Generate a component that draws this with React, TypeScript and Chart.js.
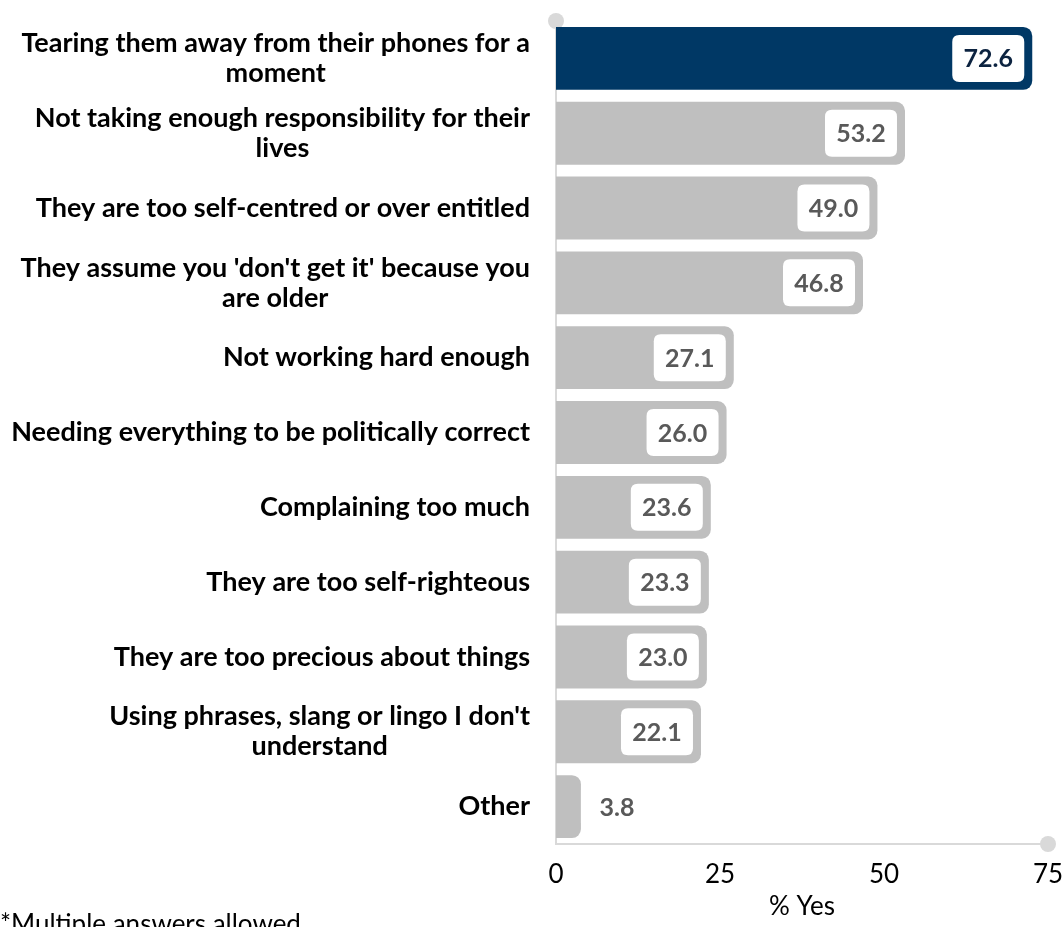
import React, { useEffect, useRef } from "react";
import { Chart, registerables } from "chart.js";

Chart.register(...registerables);

const categories: (string | string[])[] = [
  ["Tearing them away from their phones for a", "moment"],
  ["Not taking enough responsibility for their", "lives"],
  "They are too self-centred or over entitled",
  ["They assume you 'don't get it' because you", "are older"],
  "Not working hard enough",
  "Needing everything to be politically correct",
  "Complaining too much",
  "They are too self-righteous",
  "They are too precious about things",
  ["Using phrases, slang or lingo I don't", "understand"],
  "Other",
];

const values: number[] = [72.6, 53.2, 49.0, 46.8, 27.1, 26.0, 23.6, 23.3, 23.0, 22.1, 3.8];

const xTicks: number[] = [0, 25, 50, 75];

const axisTitle = "% Yes";
const footnote = "*Multiple answers allowed";

const NAVY = "#003865";
const GREY = "#bfbfbf";
const AXIS = "#d9d9d9";
const FONT = "Lato, 'Open Sans', sans-serif";

const yLabelPlugin = {
  id: "yLabels",
  afterDraw(chart: any) {
    const ctx = chart.ctx;
    const y = chart.scales.y;
    ctx.save();
    ctx.font = `bold 27px ${FONT}`;
    ctx.fillStyle = "#000";
    ctx.textBaseline = "middle";
    ctx.textAlign = "center";
    const right = 530;
    const lh = 30;
    categories.forEach((lab, i) => {
      const lines = Array.isArray(lab) ? lab : [lab];
      const widest = Math.max(...lines.map((l) => ctx.measureText(l).width));
      const cx = right - widest / 2;
      const cy = y.getPixelForValue(i);
      lines.forEach((l, j) => {
        ctx.fillText(l, cx, cy + (j - (lines.length - 1) / 2) * lh);
      });
    });
    // footnote
    ctx.font = `26px ${FONT}`;
    ctx.textAlign = "left";
    ctx.textBaseline = "alphabetic";
    ctx.fillText(footnote, 0, 933);
    ctx.restore();
  },
};

const axisPlugin = {
  id: "axisDeco",
  beforeDatasetsDraw(chart: any) {
    const ctx = chart.ctx;
    const a = chart.chartArea;
    ctx.save();
    ctx.strokeStyle = AXIS;
    ctx.fillStyle = AXIS;
    ctx.lineWidth = 2;
    ctx.beginPath();
    ctx.moveTo(a.left, a.top);
    ctx.lineTo(a.left, a.bottom);
    ctx.lineTo(a.right, a.bottom);
    ctx.stroke();
    ctx.beginPath();
    ctx.arc(a.left, a.top, 8, 0, Math.PI * 2);
    ctx.fill();
    ctx.beginPath();
    ctx.arc(a.right, a.bottom, 8, 0, Math.PI * 2);
    ctx.fill();
    ctx.restore();
  },
};

function roundRect(ctx: any, x: number, y: number, w: number, h: number, r: number) {
  ctx.beginPath();
  ctx.moveTo(x + r, y);
  ctx.lineTo(x + w - r, y);
  ctx.quadraticCurveTo(x + w, y, x + w, y + r);
  ctx.lineTo(x + w, y + h - r);
  ctx.quadraticCurveTo(x + w, y + h, x + w - r, y + h);
  ctx.lineTo(x + r, y + h);
  ctx.quadraticCurveTo(x, y + h, x, y + h - r);
  ctx.lineTo(x, y + r);
  ctx.quadraticCurveTo(x, y, x + r, y);
  ctx.closePath();
}

const dataLabelPlugin = {
  id: "dataLabels",
  afterDatasetsDraw(chart: any) {
    const ctx = chart.ctx;
    const meta = chart.getDatasetMeta(0);
    const a = chart.chartArea;
    ctx.save();
    ctx.font = `bold 25px ${FONT}`;
    ctx.textAlign = "center";
    ctx.textBaseline = "middle";
    meta.data.forEach((bar: any, i: number) => {
      const w = 72;
      const h = 47;
      const end = bar.x;
      let bx = end - 8 - w;
      if (bx < a.left + 4) bx = end;
      const by = bar.y - h / 2;
      ctx.fillStyle = "#ffffff";
      roundRect(ctx, bx, by, w, h, 7);
      ctx.fill();
      ctx.fillStyle = i === 0 ? "#0c2340" : "#595959";
      ctx.fillText(values[i].toFixed(1), bx + w / 2, bar.y + 1);
    });
    ctx.restore();
  },
};

export default function App() {
  const ref = useRef<HTMLCanvasElement | null>(null);
  useEffect(() => {
    if (!ref.current) return;
    const chart = new Chart(ref.current, {
      type: "bar",
      data: {
        labels: categories.map((c) => (Array.isArray(c) ? c.join(" ") : c)),
        datasets: [
          {
            data: values,
            backgroundColor: values.map((_, i) => (i === 0 ? NAVY : GREY)),
            borderRadius: 9,
            borderSkipped: "start",
            barPercentage: 0.84,
            categoryPercentage: 1,
          },
        ],
      },
      options: {
        indexAxis: "y",
        animation: false,
        responsive: true,
        maintainAspectRatio: false,
        layout: { padding: { top: 21, right: 16, left: 0, bottom: 0 } },
        plugins: { legend: { display: false }, tooltip: { enabled: false } },
        scales: {
          x: {
            min: xTicks[0],
            max: xTicks[xTicks.length - 1],
            afterBuildTicks: (s: any) => {
              s.ticks = xTicks.map((v) => ({ value: v }));
            },
            afterFit: (s: any) => {
              s.height = 83;
              s.paddingLeft = 0;
              s.paddingRight = 0;
            },
            ticks: {
              font: { family: FONT, size: 26 },
              color: "#000",
              padding: 15,
            },
            grid: { display: false, drawTicks: false },
            border: { display: false },
            title: {
              display: true,
              text: axisTitle,
              font: { family: FONT, size: 26 },
              color: "#000",
              padding: { top: 0, bottom: 5 },
            },
          },
          y: {
            afterFit: (s: any) => {
              s.width = 556;
              s.paddingTop = 0;
              s.paddingBottom = 0;
            },
            ticks: { display: false },
            grid: { display: false },
            border: { display: false },
          },
        },
      },
      plugins: [axisPlugin, dataLabelPlugin, yLabelPlugin],
    });
    return () => chart.destroy();
  }, []);
  return (
    <div style={{ position: "fixed", left: 0, top: 0, width: 1064, height: 927 }}>
      <canvas ref={ref} />
    </div>
  );
}
